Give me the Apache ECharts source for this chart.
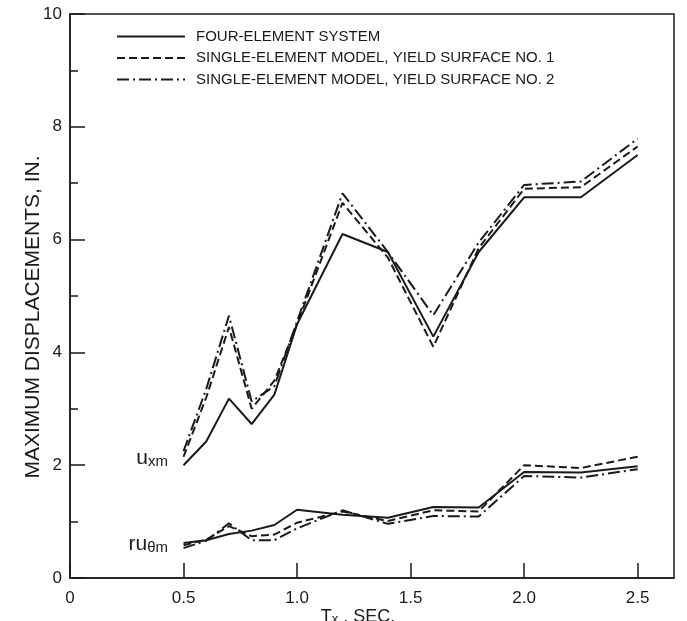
<!DOCTYPE html>
<html>
<head>
<meta charset="utf-8">
<script src="https://cdn.jsdelivr.net/npm/echarts@6/dist/echarts.min.js"></script>
<style>
  html, body { margin: 0; padding: 0; background: #fff; }
  #chart { width: 687px; height: 621px; }
</style>
</head>
<body>
<div id="chart"></div>
<script>
// periods Tx (sec)
const periods = [0.5, 0.6, 0.7, 0.8, 0.9, 1.0, 1.2, 1.4, 1.6, 1.8, 2.0, 2.25, 2.5];

// u_xm
const uxFour   = [2.0, 2.42, 3.18, 2.73, 3.25, 4.5, 6.1, 5.78, 4.28, 5.78, 6.75, 6.75, 7.5];
const uxYield1 = [2.15, 3.2, 4.45, 3.0, 3.5, 4.5, 6.65, 5.68, 4.1, 5.85, 6.9, 6.93, 7.65];
const uxYield2 = [2.25, 3.35, 4.65, 3.13, 3.4, 4.55, 6.82, 5.78, 4.66, 5.95, 6.97, 7.03, 7.79];

// r u_theta m
const rtFour   = [0.62, 0.67, 0.78, 0.84, 0.94, 1.21, 1.12, 1.07, 1.26, 1.25, 1.88, 1.87, 1.98];
const rtYield1 = [0.58, 0.68, 0.92, 0.74, 0.77, 0.98, 1.18, 1.01, 1.2, 1.18, 2.0, 1.95, 2.15];
const rtYield2 = [0.53, 0.66, 0.97, 0.67, 0.67, 0.88, 1.2, 0.96, 1.1, 1.09, 1.81, 1.78, 1.93];

const names = [
  'FOUR-ELEMENT SYSTEM',
  'SINGLE-ELEMENT MODEL, YIELD SURFACE NO. 1',
  'SINGLE-ELEMENT MODEL, YIELD SURFACE NO. 2'
];
const xTicks = [0, 0.5, 1.0, 1.5, 2.0, 2.5];
const yTicks = [0, 2, 4, 6, 8, 10];

const FONT = '"Liberation Sans", Arial, sans-serif';
const INK = '#1a1a1a';
const dashTypes = ['solid', [8, 4], [12, 4, 2, 4]];

const subRich = {
  b: { fontSize: 18, fontFamily: FONT, color: INK, lineHeight: 22, verticalAlign: 'bottom' },
  s: { fontSize: 13, fontFamily: FONT, color: INK, lineHeight: 22, verticalAlign: 'bottom', padding: [6, 0, 0, 0] }
};
const tagRich = {
  b: { fontSize: 21, fontFamily: FONT, color: INK, lineHeight: 24, verticalAlign: 'bottom' },
  s: { fontSize: 15, fontFamily: FONT, color: INK, lineHeight: 24, verticalAlign: 'bottom', padding: [7, 0, 0, 0] }
};

function makeSeries(name, vals, idx, tag, dy) {
  const s = {
    name: name,
    type: 'line',
    data: vals.map((v, i) => [periods[i], v]),
    symbol: 'none',
    silent: true,
    color: INK,
    lineStyle: { color: INK, width: 2, type: dashTypes[idx] }
  };
  if (tag) {
    // curve tag placed left of the first point
    s.markPoint = {
      silent: true,
      symbol: 'circle',
      symbolSize: 1,
      itemStyle: { color: 'rgba(0,0,0,0)' },
      label: { show: true, position: 'left', distance: 15, offset: [0, dy], formatter: tag, rich: tagRich },
      data: [{ coord: [periods[0], vals[0]] }]
    };
  }
  return s;
}

const chart = echarts.init(document.getElementById('chart'));
chart.setOption({
  animation: false,
  backgroundColor: '#fff',
  grid: {
    left: 70, right: 13, top: 14, bottom: 43,
    outerBoundsMode: 'none',
    show: true, borderColor: INK, borderWidth: 1.5, backgroundColor: 'transparent'
  },
  legend: {
    left: 116, top: 29, orient: 'vertical', padding: 0,
    itemWidth: 68, itemHeight: 14, itemGap: 6.5,
    selectedMode: false,
    itemStyle: { opacity: 0 },
    textStyle: { fontFamily: FONT, fontSize: 15, color: INK, padding: [0, 0, 0, 6] },
    data: names.map(n => ({ name: n }))
  },
  xAxis: {
    type: 'value', min: 0, max: 2.66, interval: 0.5,
    name: '{b|T}{s|x}{b| , SEC.}',
    nameLocation: 'middle', nameGap: 26,
    nameMoveOverlap: false,
    nameTextStyle: { padding: [0, 28, 0, 0], rich: subRich },
    axisLine: { lineStyle: { color: INK, width: 1.5 } },
    axisTick: { inside: true, length: 15, lineStyle: { color: INK, width: 1.5 } },
    axisLabel: {
      margin: 12, fontSize: 17, fontFamily: FONT, color: INK,
      showMaxLabel: false,
      formatter: v => xTicks.includes(v) ? (v === 0 ? '0' : v.toFixed(1)) : ''
    },
    splitLine: { show: false }
  },
  yAxis: {
    type: 'value', min: 0, max: 10, interval: 2,
    name: 'MAXIMUM DISPLACEMENTS, IN.',
    nameLocation: 'middle', nameGap: 26,
    nameMoveOverlap: false,
    nameTextStyle: { fontFamily: FONT, fontSize: 21, color: INK, padding: [0, 42, 0, 0] },
    axisLine: { lineStyle: { color: INK, width: 1.5 } },
    axisTick: { inside: true, length: 15, lineStyle: { color: INK, width: 1.5 } },
    minorTick: { show: true, splitNumber: 2, length: 8, lineStyle: { color: INK, width: 1.5 } },
    axisLabel: {
      margin: 8, fontSize: 17, fontFamily: FONT, color: INK,
      formatter: v => yTicks.includes(v) ? String(v) : ''
    },
    splitLine: { show: false }
  },
  series: [
    makeSeries(names[0], uxFour, 0, '{b|u}{s|xm}', -8),
    makeSeries(names[1], uxYield1, 1),
    makeSeries(names[2], uxYield2, 2),
    makeSeries(names[0], rtFour, 0, '{b|ru}{s|θm}', 0),
    makeSeries(names[1], rtYield1, 1),
    makeSeries(names[2], rtYield2, 2)
  ]
});
</script>
</body>
</html>
